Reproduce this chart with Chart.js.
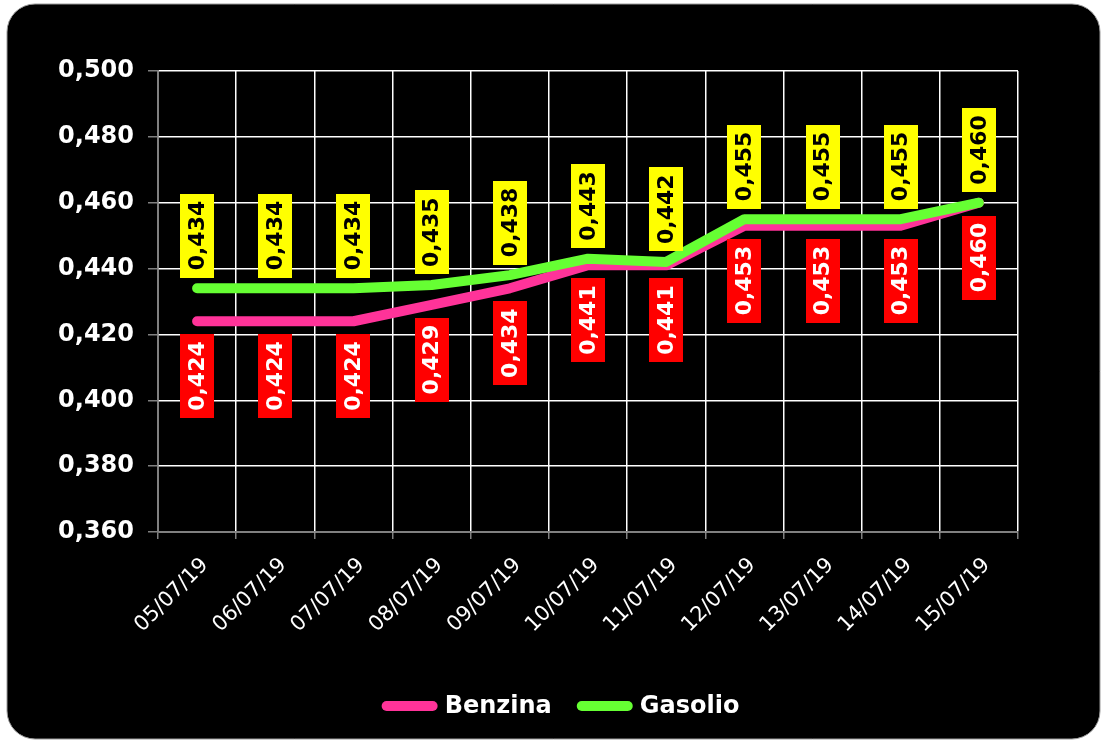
<!DOCTYPE html>
<html>
<head>
<meta charset="utf-8">
<script src="https://cdn.jsdelivr.net/npm/chart.js@4.4.1/dist/chart.umd.min.js"></script>
<style>
  html, body { margin: 0; padding: 0; background: #fff; }
  canvas { display: block; }
</style>
</head>
<body>
<canvas id="chart" width="1104" height="740"></canvas>
<script>
// dati
const dateLabels = ['05/07/19', '06/07/19', '07/07/19', '08/07/19', '09/07/19', '10/07/19',
                    '11/07/19', '12/07/19', '13/07/19', '14/07/19', '15/07/19'];
const benzina = [0.424, 0.424, 0.424, 0.429, 0.434, 0.441, 0.441, 0.453, 0.453, 0.453, 0.460];
const gasolio = [0.434, 0.434, 0.434, 0.435, 0.438, 0.443, 0.442, 0.455, 0.455, 0.455, 0.460];
const yMin = 0.360, yMax = 0.500, yStep = 0.020;

const FONT = '"DejaVu Sans", Verdana, sans-serif';
const fmt = v => v.toFixed(3).replace('.', ',');

// sfondo nero arrotondato
const bgPlugin = {
  id: 'bg',
  beforeDraw(chart) {
    const ctx = chart.ctx;
    ctx.save();
    ctx.fillStyle = '#fff';
    ctx.fillRect(0, 0, chart.width, chart.height);
    ctx.beginPath();
    ctx.roundRect(7, 4, 1093, 735, 28);
    ctx.fillStyle = '#000';
    ctx.fill();
    ctx.strokeStyle = '#9a9a9a';
    ctx.lineWidth = 1;
    ctx.stroke();
    ctx.restore();
  }
};

// date sull'asse x, inclinate a 45 gradi
const xDates = {
  id: 'xDates',
  afterDraw(chart) {
    const ctx = chart.ctx;
    const sx = chart.scales.x;
    ctx.save();
    ctx.font = '21px ' + FONT;
    ctx.fillStyle = '#fff';
    ctx.textAlign = 'right';
    ctx.textBaseline = 'middle';
    chart.data.labels.forEach((lab, i) => {
      const x = sx.getPixelForTick(i);
      ctx.save();
      ctx.translate(x + 8, sx.top + 30);
      ctx.rotate(-Math.PI / 4);
      ctx.fillText(lab, 0, 0);
      ctx.restore();
    });
    ctx.restore();
  }
};

// etichette dei valori (riquadri ruotati)
const valueLabels = {
  id: 'valueLabels',
  afterDatasetsDraw(chart) {
    const ctx = chart.ctx;
    ctx.save();
    ctx.font = 'bold 22px ' + FONT;
    chart.data.datasets.forEach((ds, di) => {
      const meta = chart.getDatasetMeta(di);
      meta.data.forEach((pt, i) => {
        const txt = fmt(ds.data[i]);
        const bh = ctx.measureText(txt).width + 14;
        const bw = 34;
        const y0 = ds.labelAbove ? pt.y - 11 - bh : pt.y + 13;
        ctx.fillStyle = ds.labelBg;
        ctx.fillRect(Math.round(pt.x - bw / 2), Math.round(y0), bw, Math.round(bh));
        ctx.save();
        ctx.translate(pt.x, y0 + bh / 2);
        ctx.rotate(-Math.PI / 2);
        ctx.textAlign = 'center';
        ctx.textBaseline = 'middle';
        ctx.fillStyle = ds.labelColor;
        ctx.fillText(txt, 0, 1);
        ctx.restore();
      });
    });
    ctx.restore();
  }
};

// legenda disegnata a mano, centrata sotto il grafico
const bottomLegend = {
  id: 'bottomLegend',
  afterDraw(chart) {
    const ctx = chart.ctx;
    const ds = chart.data.datasets;
    const sw = 46, gap = 12, between = 30, cy = 706;
    ctx.save();
    ctx.font = 'bold 24px ' + FONT;
    const widths = ds.map(d => sw + gap + ctx.measureText(d.label).width);
    const total = widths.reduce((a, b) => a + b, 0) + between * (ds.length - 1);
    let x = 563 - total / 2;
    ds.forEach((d, i) => {
      ctx.strokeStyle = d.borderColor;
      ctx.lineWidth = 10;
      ctx.lineCap = 'round';
      ctx.beginPath();
      ctx.moveTo(x, cy);
      ctx.lineTo(x + sw, cy);
      ctx.stroke();
      ctx.fillStyle = '#fff';
      ctx.textBaseline = 'middle';
      ctx.textAlign = 'left';
      ctx.fillText(d.label, x + sw + gap, cy + 1);
      x += widths[i] + between;
    });
    ctx.restore();
  }
};

const ctx = document.getElementById('chart').getContext('2d');
new Chart(ctx, {
  type: 'line',
  data: {
    labels: dateLabels,
    datasets: [
      {
        label: 'Benzina',
        data: benzina,
        borderColor: '#ff3399',
        backgroundColor: '#ff3399',
        labelBg: '#ff0000',
        labelColor: '#fff',
        labelAbove: false,
        order: 1
      },
      {
        label: 'Gasolio',
        data: gasolio,
        borderColor: '#66ff33',
        backgroundColor: '#66ff33',
        labelBg: '#ffff00',
        labelColor: '#000',
        labelAbove: true,
        order: 0
      }
    ]
  },
  options: {
    responsive: false,
    animation: false,
    devicePixelRatio: 1,
    layout: { padding: { left: 0, right: 86, top: 71, bottom: 78 } },
    elements: {
      line: { borderWidth: 10, tension: 0, borderCapStyle: 'round', borderJoinStyle: 'round' },
      point: { radius: 0, hoverRadius: 0 }
    },
    plugins: {
      tooltip: { enabled: false },
      legend: { display: false }
    },
    scales: {
      x: {
        offset: true,
        grid: { offset: true, color: '#fff', lineWidth: 1.5, tickColor: '#808080', tickLength: 7 },
        border: { color: '#808080', width: 1.5 },
        ticks: { display: false, autoSkip: false },
        afterFit: s => { s.height = 130; }
      },
      y: {
        min: yMin,
        max: yMax,
        grid: { color: '#fff', lineWidth: 1.5, tickColor: '#808080', tickLength: 10 },
        border: { color: '#808080', width: 1.5 },
        ticks: {
          stepSize: yStep,
          color: '#fff',
          font: { family: FONT, size: 24, weight: 'bold' },
          padding: 14,
          callback: v => fmt(v)
        },
        afterFit: s => { s.width = 158; }
      }
    }
  },
  plugins: [bgPlugin, valueLabels, xDates, bottomLegend]
});
</script>
</body>
</html>
